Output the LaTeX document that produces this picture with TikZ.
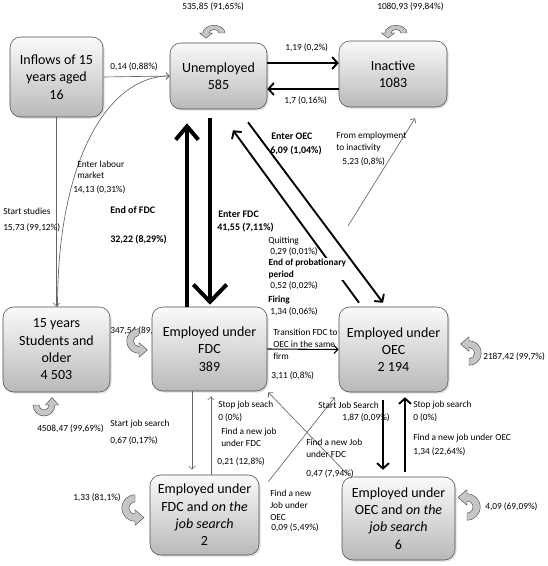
\documentclass[tikz,border=0pt]{standalone}
\usepackage{fontspec}
\setmainfont{Carlito}
\usepackage{tikz}
\usetikzlibrary{arrows.meta,calc,shadows}

\begin{document}
\begin{tikzpicture}[x=0.75pt, y=-0.75pt,
    box/.style={draw=gray!60!black, rounded corners=8pt, top color=gray!4, bottom color=gray!55,
        align=center, inner sep=1pt, font=\fontsize{10.5}{13}\selectfont,
        drop shadow={opacity=0.25, shadow xshift=1.2pt, shadow yshift=-1.2pt}},
    lab/.style={anchor=west, inner sep=0pt, align=left, font=\fontsize{7}{9}\selectfont},
    blab/.style={lab, font=\fontsize{7}{9}\bfseries\selectfont},
    thinar/.style={black!60, line width=0.5pt, -{Straight Barb[length=2.5pt,width=5pt]}},
    midar/.style={line width=1.4pt, -{Straight Barb[length=4pt,width=9pt]}},
    bigar/.style={line width=3pt},
    turn/.pic={
        \fill[gray!45, draw=gray!50!black, line width=0.3pt]
            (11,0) arc[start angle=0, end angle=-180, radius=11]
            -- (-14.5,0) -- (-8,7.5) -- (-1.5,0) -- (-5,0)
            arc[start angle=-180, end angle=0, radius=5] -- cycle;
    }]

    \useasboundingbox (0,0) rectangle (548,566);

    % label hidden behind the FDC box
    \node[lab] (lfdcstay) at (110,331) {347,54 (89,3\%)};

    % States
    \node[box, minimum width=69.75pt, minimum height=60pt] (inflow) at (56.5,77) {Inflows of 15\\years aged\\16};
    \node[box, minimum width=72.75pt, minimum height=49.5pt] (un) at (218.5,76) {Unemployed\\585};
    \node[box, minimum width=81pt, minimum height=49.5pt] (inact) at (393,74) {Inactive\\1083};
    \node[box, minimum width=80.25pt, minimum height=63.75pt] (stud) at (56.5,349.5) {15 years\\Students and\\older\\4 503};
    \node[box, minimum width=86.25pt, minimum height=63pt] (fdc) at (209.5,349) {Employed under\\FDC\\389};
    \node[box, minimum width=81.75pt, minimum height=63.75pt] (oec) at (393.5,349.5) {Employed under\\OEC\\2 194};
    \node[box, minimum width=81.75pt, minimum height=60pt] (fdcs) at (204.5,515) {Employed under\\FDC and \textit{on the}\\\textit{job search}\\2};
    \node[box, minimum width=84.75pt, minimum height=62.25pt] (oecs) at (398.5,518.5) {Employed under\\OEC and \textit{on the}\\\textit{job search}\\6};

    % Staying in the same state
    \pic[yscale=0.7] at (214,33) {turn};
    \pic[yscale=0.7] at (396,33) {turn};
    \pic[rotate=180] at (44,405) {turn};
    \pic[rotate=90, scale=1.12] at (139,341) {turn};
    \pic[rotate=-90, scale=1.12] at (469,353) {turn};
    \pic[rotate=90, scale=1.2] at (135,508) {turn};
    \pic[rotate=-90, scale=1.2] at (467,507) {turn};

    \node[lab] (lunstay) at (182,7) {535,85 (91,65\%)};
    \node[lab] (linstay) at (377,7) {1080,93 (99,84\%)};
    \node[lab] (lstudstay) at (37,429) {4508,47 (99,69\%)};
    \node[lab] (loecstay) at (483,357) {2187,42 (99,7\%)};
    \node[lab] (lfdcsstay) at (73,498) {1,33 (81,1\%)};
    \node[lab] (loecsstay) at (485,507) {4,09 (69,09\%)};

    % Flows of the young
    \draw[thinar] (inflow.east) -- (un.west);
    \draw[thinar] (inflow.south) -- (stud.north);
    \draw[thinar] ($(stud.north)+(1,0)$) .. controls +(0,-150) and +(-60,0) .. (un.west);

    % Unemployment and inactivity
    \draw[midar] ($(un.east)+(0,-13)$) -- ($(inact.west)+(0,-11)$);
    \draw[midar] ($(inact.west)+(0,15)$) -- ($(un.east)+(0,13)$);
    \coordinate (empl) at (348,226);
    \draw[thinar] (empl) -- ($(inact.south)+(22,11)$);

    % Unemployment and employment
    \draw[bigar, -{Straight Barb[length=10pt,width=17pt]}] ($(fdc.north)+(-22.5,0)$) -- ($(un.south)+(-31.5,14)$);
    \draw[bigar, -{Straight Barb[length=13pt,width=25pt]}] ($(un.south)+(-8.5,9)$) -- ($(fdc.north)+(0.5,-2)$);
    \draw[midar] ($(oec.north)+(-34.5,-4)$) -- ($(un.south)+(14.5,21)$);
    \draw[midar] ($(un.south)+(29.5,13)$) -- ($(oec.north)+(-10.5,-4)$);
    \draw[line width=0.8pt, -{Straight Barb[length=3pt,width=6pt]}] (fdc.east) -- (oec.west);

    % On the job search
    \draw[thinar] ($(fdc.south)+(-17.5,0)$) -- ($(fdcs.north)+(-12.5,-5)$);
    \draw[thinar] ($(fdcs.north)+(6.5,0)$) -- ($(fdc.south)+(1.5,5)$);
    \draw[thinar] ($(fdcs.north east)+(9,7)$) -- ($(oec.south west)+(-4,5)$);
    \draw[thinar] ($(oecs.north west)+(6,-2)$) -- ($(fdc.south east)+(1,1)$);
    \draw[midar] ($(oec.south)+(-10.5,8)$) -- ($(oecs.north)+(-15.5,-7)$);
    \draw[midar] ($(oecs.north)+(6.5,-5)$) -- ($(oec.south)+(11.5,5)$);

    % Labels of the flows
    \node[lab] (linun) at (110,67) {0,14 (0,88\%)};
    \node[lab] (lunin) at (285,48) {1,19 (0,2\%)};
    \node[lab] (linun2) at (284,101) {1,7 (0,16\%)};
    \node[lab, font=\fontsize{7}{8.5}\selectfont] (llab) at (77,169.5) {Enter labour\\market};
    \node[lab] (llabv) at (73,190) {14,13 (0,31\%)};
    \node[lab] (lstud) at (3,211) {Start studies};
    \node[lab] (lstudv) at (3,228) {15,73 (99,12\%)};
    \node[blab, font=\fontsize{7.5}{9}\bfseries\selectfont] (lend) at (110,210) {End of FDC};
    \node[blab, font=\fontsize{7.5}{9}\bfseries\selectfont] (lendv) at (110,240) {32,22 (8,29\%)};
    \node[blab, font=\fontsize{7.5}{9}\bfseries\selectfont] (lenter) at (218,214) {Enter FDC};
    \node[blab, font=\fontsize{7.5}{9}\bfseries\selectfont] (lenterv) at (217,228) {41,55 (7,11\%)};
    \node[blab, font=\fontsize{7.5}{9}\bfseries\selectfont] (loec) at (271,136) {Enter OEC};
    \node[blab, font=\fontsize{7.5}{9}\bfseries\selectfont] (loecv) at (270,151) {6,09 (1,04\%)};
    \node[lab] (lempl) at (336,142) {From employment\\to inactivity};
    \node[lab] (lemplv) at (342,162) {5,23 (0,8\%)};
    \node[lab] (lquit) at (268,241) {Quitting};
    \node[lab] (lquitv) at (270,252) {0,29 (0,01\%)};
    \node[blab, fill=white, inner sep=1pt] (lprob) at (267,269) {End of probationary\\period};
    \node[lab] (lprobv) at (270,286) {0,52 (0,02\%)};
    \node[blab] (lfire) at (268,300) {Firing};
    \node[lab] (lfirev) at (270,312) {1,34 (0,06\%)};
    \node[lab] (ltrans) at (273,344) {Transition FDC to\\OEC in the same\\firm};
    \node[lab] (ltransv) at (271,376) {3,11 (0,8\%)};
    \node[lab] (lstart) at (110,424) {Start job search};
    \node[lab] (lstartv) at (110,441) {0,67 (0,17\%)};
    \node[lab] (lstop) at (218,405) {Stop job seach};
    \node[lab] (lstopv) at (218,418) {0 (0\%)};
    \node[lab] (lnewf) at (221,437.5) {Find a new job\\under FDC};
    \node[lab] (lnewfv) at (217,462) {0,21 (12,8\%)};
    \node[lab] (lnewo) at (270,505.5) {Find a new\\Job under\\OEC};
    \node[lab] (lnewov) at (271,528) {0,09 (5,49\%)};
    \node[lab] (lnewf2) at (306,448.5) {Find a new Job\\under FDC};
    \node[lab] (lnewf2v) at (306,474) {0,47 (7,94\%)};
    \node[lab] (lstart2) at (318,405) {Start Job Search};
    \node[lab] (lstart2v) at (342,418) {1,87 (0,09\%)};
    \node[lab] (lstop2) at (413,405) {Stop job search};
    \node[lab] (lstop2v) at (413,418) {0 (0\%)};
    \node[lab] (lnewo2) at (413,438) {Find a new job under OEC};
    \node[lab] (lnewo2v) at (413,452) {1,34 (22,64\%)};

\end{tikzpicture}
\end{document}
